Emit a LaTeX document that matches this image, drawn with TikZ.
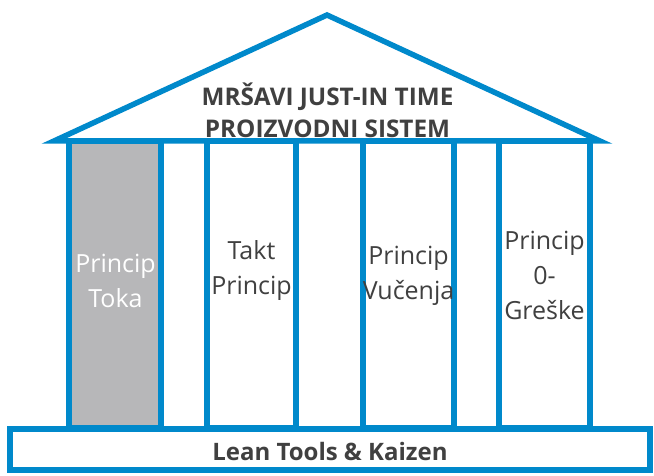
\documentclass[tikz,border=0pt]{standalone}
\usepackage{fontspec}
\setmainfont{Open Sans}
\definecolor{pblue}{RGB}{0,137,203}
\definecolor{pgrey}{RGB}{183,183,185}
\definecolor{ptext}{RGB}{64,64,64}
\begin{document}
\begin{tikzpicture}[x=1pt,y=-1pt,
  edge/.style={draw=pblue,line width=5.5pt,line join=miter},
  pillar/.style={edge,fill=white},
  ptxt/.style={align=center,inner sep=0pt,text=ptext,font=\fontsize{25}{35}\selectfont},
  btxt/.style={align=center,inner sep=0pt,text=ptext,font=\bfseries\fontsize{24.3}{32}\selectfont}]
\useasboundingbox (0,0) rectangle (654,476);
% pillars
\draw[pillar,fill=pgrey] (69,141) rectangle (161,428);
\draw[pillar] (207,141) rectangle (296,428);
\draw[pillar] (363,141) rectangle (454,428);
\draw[pillar] (499,141) rectangle (590,428);
% base
\draw[edge,fill=white] (10,429) rectangle (650,470);
% roof
\draw[edge] (54,141) -- (327,15) -- (600,141) -- cycle;
% texts
\node[btxt] (roof) at (327.5,110) {MRŠAVI JUST-IN TIME\\PROIZVODNI SISTEM};
\node[ptxt,text=white] (p1) at (115.5,281) {Princip\\Toka};
\node[ptxt] (p2) at (251.5,271) {Takt\\Princip};
\node[ptxt] (p3) at (408.5,276) {Princip\\Vučenja};
\node[ptxt] (p4) at (544.5,275.5) {Princip\\0-\\Greške};
\node[btxt,font=\bfseries\fontsize{24}{32}\selectfont] (base) at (330,451) {Lean Tools \& Kaizen};
\end{tikzpicture}
\end{document}
